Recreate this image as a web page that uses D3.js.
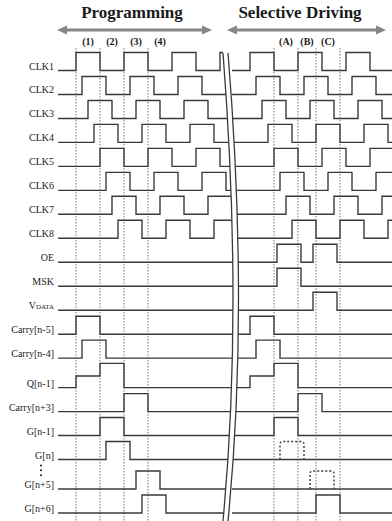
<!DOCTYPE html>
<html>
<head>
<meta charset="utf-8">
<script src="https://cdn.jsdelivr.net/npm/d3@7"></script>
<style>
  body { margin: 0; background: #fff; }
  text { font-family: "Liberation Serif", "Times New Roman", serif; fill: #1a1a1a; }
</style>
</head>
<body>
<div id="chart"></div>
<script>
var totalWidth = 392,
    totalHeight = 521;

// rows, top to bottom
var signals = ["CLK1", "CLK2", "CLK3", "CLK4", "CLK5", "CLK6", "CLK7", "CLK8",
    "OE", "MSK", "VDATA", "Carry[n-5]", "Carry[n-4]", "Q[n-1]", "Carry[n+3]",
    "G[n-1]", "G[n]", "G[n+5]", "G[n+6]"];
var gapBefore = ["Q[n-1]", "G[n+5]"];

// time is counted in clock phases, 8 phases per clock period
var clockNames = ["CLK1", "CLK2", "CLK3", "CLK4", "CLK5", "CLK6", "CLK7", "CLK8"];
var clockFirstRise = [0, 1, 2, 3, 4, 5, 6, 7];
var clockPeriod = 8,
    clockHighTime = 4;

// section marks
var marksLeft = [0, 4, 8, 12];
var markNamesLeft = ["(1)", "(2)", "(3)", "(4)"];
var marksRight = [4, 8, 11, 15];
var markNamesRight = ["(A)", "(B)", "(C)"];

// pulses in the programming part
var pulseRowsLeft = ["Carry[n-5]", "Carry[n-4]", "Q[n-1]", "Q[n-1]", "Carry[n+3]", "G[n-1]", "G[n]", "G[n+5]", "G[n+6]"];
var pulseStartLeft = [0, 1, 0, 4, 8, 4, 5, 10, 11];
var pulseEndLeft = [4, 5, 4, 8, 12, 8, 9, 14, 15];
var pulseLevelLeft = [1, 1, 0.65, 1.35, 1, 1, 1, 1, 1];

// pulses in the selective driving part
var pulseRowsRight = ["OE", "OE", "MSK", "VDATA", "Carry[n-5]", "Carry[n-4]", "Q[n-1]", "Q[n-1]", "Carry[n+3]", "G[n-1]", "G[n+6]"];
var pulseStartRight = [4.5, 10.5, 4.5, 10.5, 0, 1, 0, 4, 8, 4, 11];
var pulseEndRight = [8.5, 14.5, 8.5, 14.5, 4, 5, 4, 8, 12, 8, 15];
var pulseLevelRight = [1, 1, 1, 1, 1, 1, 0.65, 1.35, 1, 1, 1];

// dotted pulses (rows that are not driven)
var dottedRows = ["G[n]", "G[n+5]"];
var dottedStart = [5, 10];
var dottedEnd = [9, 14];

var svg = d3.select("#chart")
    .append("svg")
    .attr("width", totalWidth)
    .attr("height", totalHeight);

var xL = d3.scaleLinear().domain([0, 16]).range([76, 172]);
var xR = d3.scaleLinear().domain([0, 16]).range([250, 346]);
var lvl = d3.scaleLinear().domain([0, 1]).range([0, -18]);

// row position, with a small extra gap before some rows
var rowIndex = {};
var gaps = 0;
signals.forEach((s, i) => {
    if (gapBefore.indexOf(s) >= 0) gaps++;
    rowIndex[s] = i + gaps * 0.23;
});
var y = d3.scaleLinear().domain([0, 18 + 2 * 0.23]).range([70.5, 513]);
var rowY = s => y(rowIndex[s]);

var stroke = "#3a3a3a";

// break clips
var leftCurve = "M223,53 Q243,310 223,521";
var rightCurve = "M228,53 Q249,310 228,521";
var defs = svg.append("defs");
defs.append("clipPath").attr("id", "clipL")
    .append("path").attr("d", "M0,0 H223 V53 Q243,310 223,521 V530 H0 Z");
defs.append("clipPath").attr("id", "clipR")
    .append("path").attr("d", "M228,0 V53 Q249,310 228,521 V530 H400 V0 Z");

function pulsesFor(name, rows, starts, ends, levels, tEnd) {
    var list = [];
    var ci = clockNames.indexOf(name);
    if (ci >= 0) {
        for (var s = clockFirstRise[ci]; s < tEnd; s += clockPeriod)
            list.push([s, s + clockHighTime, 1]);
    }
    rows.forEach((r, i) => {
        if (r === name) list.push([starts[i], ends[i], levels[i]]);
    });
    return list.sort((a, b) => a[0] - b[0]);
}

function wave(list, tStart, tEnd) {
    var pts = [[tStart, 0]];
    list.forEach((p, i) => {
        pts.push([p[0], p[2]]);
        var next = list[i + 1];
        if (!next || next[0] > p[1]) pts.push([p[1], 0]);
    });
    pts.push([tEnd, pts[pts.length - 1][1]]);
    return pts;
}

function drawPanel(x, clipId, rows, starts, ends, levels, tStart, tEnd) {
    var g = svg.append("g").attr("clip-path", "url(#" + clipId + ")");
    signals.forEach(name => {
        var pts = wave(pulsesFor(name, rows, starts, ends, levels, tEnd), tStart, tEnd);
        var line = d3.line()
            .x(d => x(d[0]))
            .y(d => rowY(name) + lvl(d[1]))
            .curve(d3.curveStepAfter);
        g.append("path")
            .attr("d", line(pts))
            .attr("fill", "none")
            .attr("stroke", stroke)
            .attr("stroke-width", 1.4);
    });
    return g;
}

// dotted section lines
function drawMarks(x, marks, names) {
    svg.append("g").selectAll("line")
        .data(marks)
        .enter()
        .append("line")
        .attr("x1", d => x(d)).attr("x2", d => x(d))
        .attr("y1", 48).attr("y2", totalHeight)
        .attr("stroke", "#777")
        .attr("stroke-width", 1)
        .attr("stroke-dasharray", "1.5,1.5");
    svg.append("g").selectAll("text")
        .data(names)
        .enter()
        .append("text")
        .text(d => d)
        .attr("x", (d, i) => x((marks[i] + (marks[i + 1] !== undefined ? marks[i + 1] : marks[i] + 4)) / 2))
        .attr("y", 45)
        .attr("text-anchor", "middle")
        .style("font-size", "10px")
        .style("font-weight", "bold");
}
drawMarks(xL, marksLeft, markNamesLeft);
drawMarks(xR, marksRight, markNamesRight);

drawPanel(xL, "clipL", pulseRowsLeft, pulseStartLeft, pulseEndLeft, pulseLevelLeft, -3, 27);
var gR = drawPanel(xR, "clipR", pulseRowsRight, pulseStartRight, pulseEndRight, pulseLevelRight, -3, 24);

// dotted pulses with rounded corners
dottedRows.forEach((name, i) => {
    var x0 = xR(dottedStart[i]), x1 = xR(dottedEnd[i]),
        yb = rowY(name), yt = rowY(name) + lvl(1), r = 3;
    var p = d3.path();
    p.moveTo(x0, yb);
    p.lineTo(x0, yt + r);
    p.quadraticCurveTo(x0, yt, x0 + r, yt);
    p.lineTo(x1 - r, yt);
    p.quadraticCurveTo(x1, yt, x1, yt + r);
    p.lineTo(x1, yb);
    gR.append("path")
        .attr("d", p.toString())
        .attr("fill", "none")
        .attr("stroke", stroke)
        .attr("stroke-width", 1.4)
        .attr("stroke-dasharray", "2,2");
});

// break lines
[leftCurve, rightCurve].forEach(d => {
    svg.append("path")
        .attr("d", d)
        .attr("fill", "none")
        .attr("stroke", stroke)
        .attr("stroke-width", 1.3);
});

// row labels
var labels = svg.append("g");
signals.forEach(name => {
    var t = labels.append("text")
        .attr("x", 54)
        .attr("y", rowY(name) - 1)
        .attr("text-anchor", "end")
        .style("font-size", "10px");
    if (name === "VDATA") {
        t.append("tspan").text("V");
        t.append("tspan").text("DATA").style("font-size", "7px");
    } else {
        t.text(name);
    }
});

// vertical ellipsis between G[n] and G[n+5]
var dotTop = rowY("G[n]") + 6;
labels.selectAll("circle")
    .data([0, 1, 2])
    .enter()
    .append("circle")
    .attr("cx", 41)
    .attr("cy", d => dotTop + d * 4.8)
    .attr("r", 1)
    .style("fill", "#1a1a1a");

// section titles and arrows
var arrowColor = "#868686";
function arrow(xa, xb, yy) {
    svg.append("line")
        .attr("x1", xa + 6).attr("x2", xb - 6)
        .attr("y1", yy).attr("y2", yy)
        .attr("stroke", arrowColor)
        .attr("stroke-width", 3);
    svg.append("path")
        .attr("d", "M" + xa + "," + yy + " l10,-4.5 v9 Z M" + xb + "," + yy + " l-10,-4.5 v9 Z")
        .style("fill", arrowColor);
}
arrow(57, 212, 30);
arrow(227, 386, 30);

svg.append("text")
    .text("Programming")
    .attr("x", 132).attr("y", 18)
    .attr("text-anchor", "middle")
    .style("font-size", "17px")
    .style("font-weight", "bold");
svg.append("text")
    .text("Selective Driving")
    .attr("x", 300).attr("y", 18)
    .attr("text-anchor", "middle")
    .style("font-size", "17px")
    .style("font-weight", "bold");
</script>
</body>
</html>
